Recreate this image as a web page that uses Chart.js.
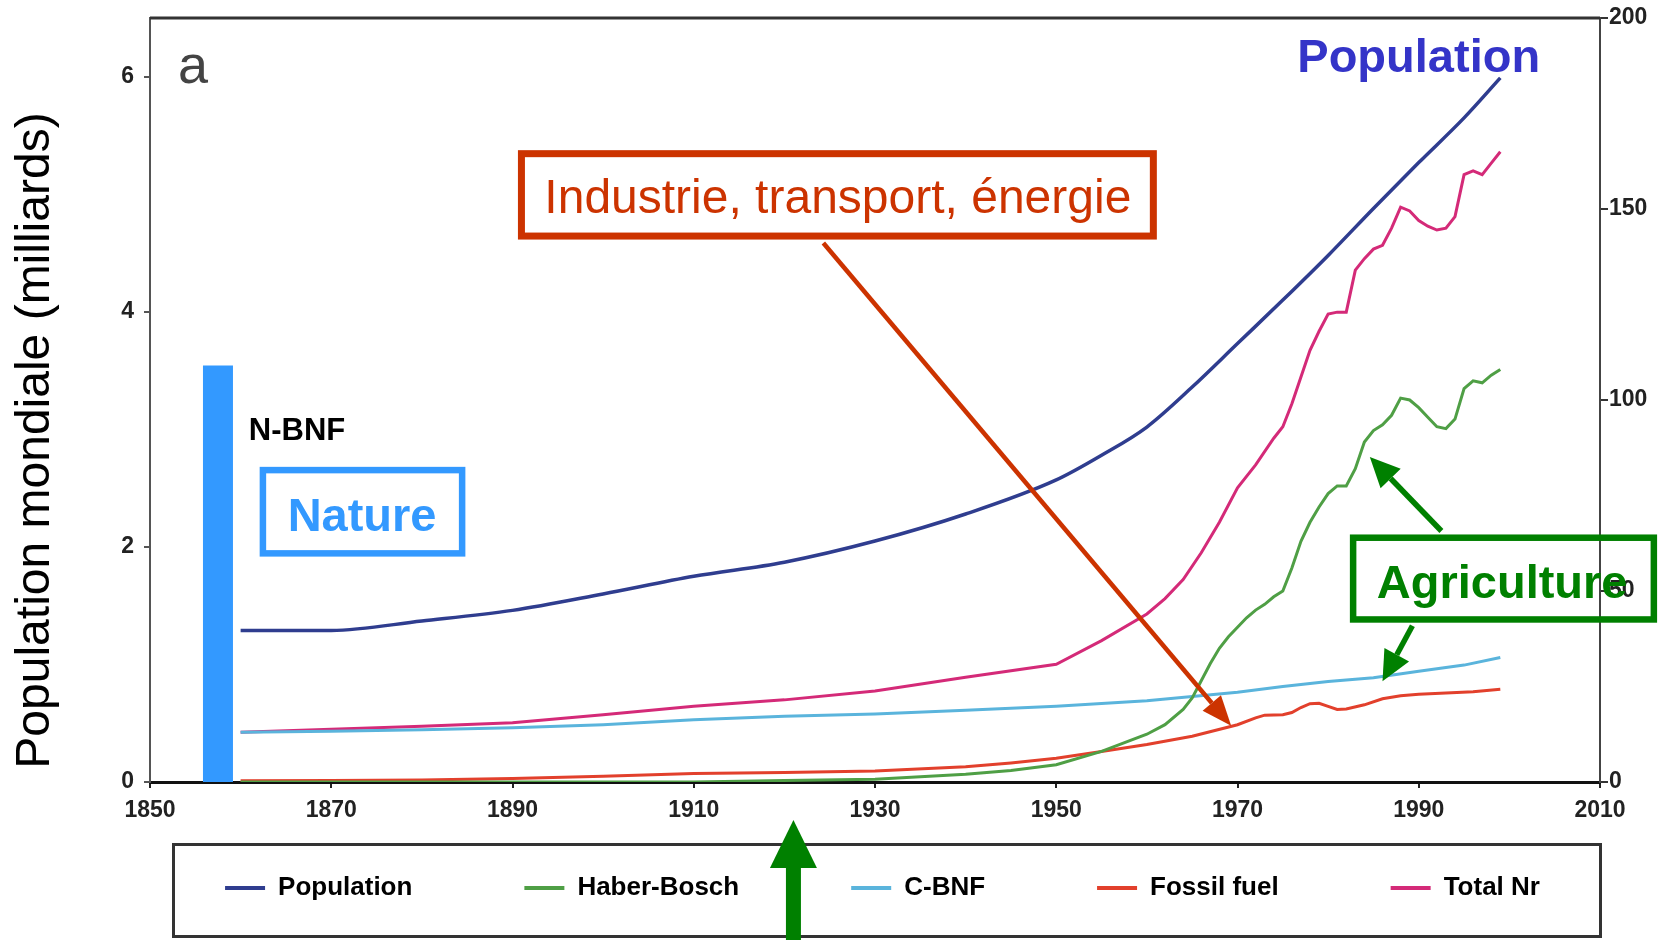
<!DOCTYPE html>
<html>
<head>
<meta charset="utf-8">
<script src="https://cdn.jsdelivr.net/npm/chart.js@4.4.0/dist/chart.umd.min.js"></script>
<style>
  html, body { margin: 0; padding: 0; background: #fff; }
  #grafico { display: block; }
</style>
</head>
<body>
<canvas id="grafico" width="1669" height="940"></canvas>
<script>
// --- données ---
const popAnnees = [1860, 1870, 1880, 1890, 1900, 1910, 1920, 1930, 1940, 1950, 1955, 1960, 1965, 1970, 1975, 1980, 1985, 1990, 1995, 1999];
const popValeurs = [1.29, 1.29, 1.37, 1.46, 1.60, 1.75, 1.87, 2.05, 2.28, 2.57, 2.78, 3.02, 3.36, 3.73, 4.10, 4.48, 4.88, 5.27, 5.65, 5.99];

const hbAnnees = [1860, 1910, 1920, 1930, 1940, 1945, 1950, 1955, 1960, 1962, 1964, 1965, 1966, 1967, 1968, 1969, 1970, 1971, 1972, 1973, 1974, 1975, 1976, 1977, 1978, 1979, 1980, 1981, 1982, 1983, 1984, 1985, 1986, 1987, 1988, 1989, 1990, 1991, 1992, 1993, 1994, 1995, 1996, 1997, 1998, 1999];
const hbValeurs = [0, 0, 0.4, 0.7, 2.0, 3.0, 4.5, 8, 12.5, 15, 19, 22, 26.5, 31, 35, 38, 40.5, 43, 45, 46.5, 48.5, 50, 56, 63, 68, 72, 75.5, 77.5, 77.5, 82, 89, 92, 93.5, 96, 100.5, 100, 98, 95.5, 93, 92.5, 95, 103, 105, 104.5, 106.5, 108];

const cbnfAnnees = [1860, 1870, 1880, 1890, 1900, 1910, 1920, 1930, 1940, 1950, 1960, 1965, 1970, 1975, 1980, 1985, 1990, 1995, 1999];
const cbnfValeurs = [13, 13.3, 13.7, 14.2, 15, 16.3, 17.2, 17.8, 18.8, 19.8, 21.3, 22.4, 23.5, 25, 26.3, 27.3, 29, 30.6, 32.6];

const ffAnnees = [1860, 1870, 1880, 1890, 1900, 1910, 1920, 1930, 1940, 1945, 1950, 1955, 1960, 1965, 1970, 1972, 1973, 1975, 1976, 1977, 1978, 1979, 1980, 1981, 1982, 1984, 1986, 1988, 1990, 1993, 1996, 1999];
const ffValeurs = [0.3, 0.4, 0.5, 0.9, 1.5, 2.2, 2.5, 2.9, 4.0, 5.0, 6.2, 8.0, 9.8, 12.0, 15.0, 16.8, 17.5, 17.6, 18.2, 19.5, 20.5, 20.6, 19.8, 19.0, 19.1, 20.2, 21.8, 22.6, 23.0, 23.3, 23.6, 24.3];

const nrAnnees = [1860, 1870, 1880, 1890, 1900, 1910, 1920, 1930, 1940, 1950, 1955, 1960, 1962, 1964, 1966, 1968, 1970, 1972, 1974, 1975, 1976, 1977, 1978, 1979, 1980, 1981, 1982, 1983, 1984, 1985, 1986, 1987, 1988, 1989, 1990, 1991, 1992, 1993, 1994, 1995, 1996, 1997, 1998, 1999];
const nrValeurs = [13.0, 13.8, 14.6, 15.5, 17.6, 19.8, 21.5, 23.8, 27.4, 30.8, 37, 44, 48, 53, 60, 68, 77, 83, 90, 93, 99, 106, 113, 118, 122.5, 123, 123, 134, 137, 139.5, 140.5, 145, 150.5, 149.5, 147, 145.5, 144.5, 145, 148, 159, 160, 159, 162, 165];

// fixation naturelle (barre N-BNF)
const nbnfAnnee = [1857.5];
const nbnfValeur = [109];

const legendeNoms = ['Population', 'Haber-Bosch', 'C-BNF', 'Fossil fuel', 'Total Nr'];
const ticksAnnees = [1850, 1870, 1890, 1910, 1930, 1950, 1970, 1990, 2010];
const ticksPop = [0, 2, 4, 6];
const ticksAzote = [0, 50, 100, 150, 200];

const couleurs = ['#2f3d8f', '#4f9f45', '#5ab4dc', '#e2402c', '#d42a78'];
const police = "'Liberation Sans', Arial, sans-serif";
const policeEtroite = "'Liberation Sans Narrow', 'Arial Narrow', 'Liberation Sans', Arial, sans-serif";

const points = (annees, valeurs) => annees.map((a, i) => ({ x: a, y: valeurs[i] }));

/* flèche : trait + pointe pleine */
function fleche(ctx, x1, y1, x2, y2, couleur, epaisseur, longTete, largTete) {
  const ang = Math.atan2(y2 - y1, x2 - x1);
  const bx = x2 - longTete * Math.cos(ang);
  const by = y2 - longTete * Math.sin(ang);
  ctx.save();
  ctx.strokeStyle = couleur;
  ctx.fillStyle = couleur;
  ctx.lineWidth = epaisseur;
  ctx.beginPath();
  ctx.moveTo(x1, y1);
  ctx.lineTo(bx, by);
  ctx.stroke();
  ctx.beginPath();
  ctx.moveTo(x2, y2);
  ctx.lineTo(bx + largTete / 2 * Math.sin(ang), by - largTete / 2 * Math.cos(ang));
  ctx.lineTo(bx - largTete / 2 * Math.sin(ang), by + largTete / 2 * Math.cos(ang));
  ctx.closePath();
  ctx.fill();
  ctx.restore();
}

/* cadre dont le bord extérieur suit les coordonnées données */
function cadre(ctx, x1, y1, x2, y2, couleur, epaisseur) {
  ctx.save();
  ctx.strokeStyle = couleur;
  ctx.lineWidth = epaisseur;
  const h = epaisseur / 2;
  ctx.strokeRect(x1 + h, y1 + h, x2 - x1 - epaisseur, y2 - y1 - epaisseur);
  ctx.restore();
}

function texte(ctx, t, x, y, font, couleur, align) {
  ctx.save();
  ctx.font = font;
  ctx.fillStyle = couleur;
  ctx.textAlign = align || 'left';
  ctx.textBaseline = 'alphabetic';
  ctx.fillText(t, x, y);
  ctx.restore();
}

/* annotations posées en coordonnées (année, Tg N) */
const annotations = {
  id: 'annotations',
  beforeDatasetsDraw(chart) {
    const { ctx, chartArea } = chart;
    ctx.save();
    ctx.strokeStyle = '#333';
    ctx.lineWidth = 3;
    ctx.beginPath();
    ctx.moveTo(chartArea.left, chartArea.top);
    ctx.lineTo(chartArea.right, chartArea.top);
    ctx.stroke();
    ctx.restore();
  },
  afterDatasetsDraw(chart) {
    const ctx = chart.ctx;
    const X = v => chart.scales.x.getPixelForValue(v);
    const Y = v => chart.scales.yN.getPixelForValue(v);

    texte(ctx, 'a', X(1853.1), Y(183), `54px ${police}`, '#444');
    texte(ctx, 'Population', X(1976.6), Y(185.9), `bold 47px ${police}`, '#3434c8');

    // industrie
    cadre(ctx, X(1890.6), Y(165.4), X(1961.1), Y(142.0), '#cc3300', 7);
    texte(ctx, 'Industrie, transport, énergie', X(1925.9), Y(148.9), `48px ${police}`, '#cc3300', 'center');
    fleche(ctx, X(1924.3), Y(141.1), X(1969.3), Y(14.7), '#cc3300', 4.5, 30, 24);

    // nature
    texte(ctx, 'N-BNF', X(1860.9), Y(89.5), `bold 31px ${police}`, '#000');
    cadre(ctx, X(1862.1), Y(82.5), X(1884.8), Y(59.0), '#3399ff', 6.5);
    texte(ctx, 'Nature', X(1873.4), Y(65.6), `bold 47px ${police}`, '#3399ff', 'center');

    // agriculture
    cadre(ctx, X(1982.4), Y(64.8), X(2016.3), Y(41.7), '#008000', 6.5);
    texte(ctx, 'Agriculture', X(1999.2), Y(48.2), `bold 47px ${police}`, '#008000', 'center');
    fleche(ctx, X(1992.5), Y(65.7), X(1984.6), Y(85.1), '#008000', 5.5, 30, 28);
    fleche(ctx, X(1989.3), Y(40.9), X(1986.0), Y(26.4), '#008000', 5.5, 30, 28);
  },
  afterDraw(chart) {
    const { ctx, chartArea } = chart;
    const X = v => chart.scales.x.getPixelForValue(v);
    // cadre de la légende
    cadre(ctx, chartArea.left + 22, chartArea.bottom + 61, chartArea.right + 2, chartArea.bottom + 156, '#333', 3);
    // grande flèche verte
    fleche(ctx, X(1921), chart.height + 5, X(1921), chartArea.bottom + 38, '#008000', 15, 48, 47);
  }
};

const legendePad = 112;
const legendeTaille = 26;

/* place la légende sous l'axe, centrée comme sur la figure */
const placeLegende = {
  id: 'placeLegende',
  afterLayout(chart) {
    const lg = chart.legend;
    const cy = chart.chartArea.bottom + 106;
    lg.top = cy - legendePad - legendeTaille / 2;
    lg.bottom = chart.height;
    lg.height = lg.bottom - lg.top;
    lg.left += 48;
    lg.right += 48;
  }
};

const ctx = document.querySelector('#grafico');

const serie = (label, annees, valeurs, couleur, axe, largeur) => ({
  label,
  data: points(annees, valeurs),
  borderColor: couleur,
  backgroundColor: couleur,
  borderWidth: largeur,
  pointRadius: 0,
  tension: 0,
  fill: false,
  yAxisID: axe
});

const sansMarge = s => { s.paddingTop = 0; s.paddingBottom = 0; };

const courbePop = serie('Population', popAnnees, popValeurs, couleurs[0], 'yPop', 3.5);
courbePop.cubicInterpolationMode = 'monotone';

const grafica = new Chart(ctx, {
  type: 'line',
  data: {
    datasets: [
      courbePop,
      serie('Haber-Bosch', hbAnnees, hbValeurs, couleurs[1], 'yN', 3),
      serie('C-BNF', cbnfAnnees, cbnfValeurs, couleurs[2], 'yN', 3),
      serie('Fossil fuel', ffAnnees, ffValeurs, couleurs[3], 'yN', 3),
      serie('Total Nr', nrAnnees, nrValeurs, couleurs[4], 'yN', 3),
      {
        label: 'N-BNF',
        data: [{ x: nbnfAnnee[0], y: 0 }, { x: nbnfAnnee[0], y: nbnfValeur[0] }],
        borderColor: '#3399ff',
        borderWidth: 30,
        borderCapStyle: 'butt',
        pointRadius: 0,
        fill: false,
        yAxisID: 'yN'
      }
    ]
  },
  options: {
    responsive: false,
    animation: false,
    layout: { padding: { top: 18, left: 0, right: 0, bottom: 0 } },
    plugins: {
      tooltip: { enabled: false },
      legend: {
        position: 'bottom',
        maxHeight: 60,
        labels: {
          padding: legendePad,
          boxWidth: 40,
          boxHeight: 4,
          color: '#222',
          font: { family: policeEtroite, size: legendeTaille, weight: 'bold' },
          generateLabels: () => legendeNoms.map((nom, i) => ({
            text: nom,
            fillStyle: couleurs[i],
            strokeStyle: couleurs[i],
            lineWidth: 0,
            hidden: false,
            datasetIndex: i
          }))
        }
      }
    },
    scales: {
      x: {
        type: 'linear',
        min: 1850,
        max: 2010,
        afterBuildTicks: s => { s.ticks = ticksAnnees.map(v => ({ value: v })); },
        afterFit: s => { s.height = 98; },
        grid: { drawOnChartArea: false, tickLength: 6, color: '#222', lineWidth: 2 },
        border: { color: '#111', width: 3 },
        ticks: { padding: 9, color: '#222', callback: v => String(v), font: { family: policeEtroite, size: 23, weight: 'bold' } }
      },
      yPop: {
        type: 'linear',
        position: 'left',
        min: 0,
        max: 6.5,
        afterBuildTicks: s => { s.ticks = ticksPop.map(v => ({ value: v })); },
        afterFit: s => { s.width = 150; sansMarge(s); },
        grid: { drawOnChartArea: false, tickLength: 6, color: '#555', lineWidth: 2 },
        border: { color: '#555', width: 2 },
        ticks: { padding: 10, color: '#222', callback: v => String(v), font: { family: policeEtroite, size: 23, weight: 'bold' } },
        title: {
          display: true,
          text: ' Population mondiale (milliards)',
          align: 'start',
          color: '#000',
          padding: { top: 7, bottom: 0 },
          font: { family: police, size: 48 }
        }
      },
      yN: {
        type: 'linear',
        position: 'right',
        min: 0,
        max: 200,
        afterBuildTicks: s => { s.ticks = ticksAzote.map(v => ({ value: v })); },
        afterFit: s => { s.width = 69; sansMarge(s); },
        grid: { drawOnChartArea: false, tickLength: 8, color: '#333', lineWidth: 2 },
        border: { color: '#444', width: 2 },
        ticks: { padding: 1, color: '#222', callback: v => String(v), font: { family: policeEtroite, size: 23, weight: 'bold' } }
      }
    }
  },
  plugins: [annotations, placeLegende]
});
</script>
</body>
</html>
